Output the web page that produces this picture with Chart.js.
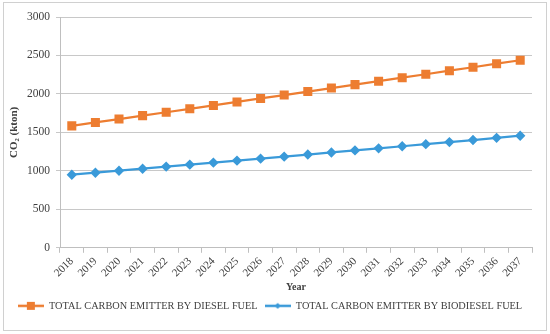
<!DOCTYPE html>
<html>
<head>
<meta charset="utf-8">
<script src="https://cdn.jsdelivr.net/npm/chart.js@4"></script>
<style>
  body { margin: 0; background: #fff; }
  #wrap { position: relative; width: 550px; height: 334px; }
  #frame { position: absolute; left: 3px; top: 2px; width: 542px; height: 327px; border: 1px solid #d0d0d0; pointer-events: none; }
  canvas { position: absolute; left: 0; top: 0; }
</style>
</head>
<body>
<div id="wrap">
  <canvas id="chart" width="550" height="334"></canvas>
  <div id="frame"></div>
</div>
<script>
const years = ["2018", "2019", "2020", "2021", "2022", "2023", "2024", "2025", "2026", "2027",
  "2028", "2029", "2030", "2031", "2032", "2033", "2034", "2035", "2036", "2037"];
const dieselValues = [1585, 1630, 1674, 1718, 1762, 1807, 1851, 1896, 1941, 1986,
  2031, 2076, 2121, 2166, 2211, 2256, 2302, 2347, 2393, 2438];
const biodieselValues = [950, 976, 1002, 1028, 1055, 1081, 1107, 1133, 1159, 1185,
  1212, 1239, 1266, 1293, 1320, 1347, 1374, 1401, 1429, 1457];
const yTicks = [0, 500, 1000, 1500, 2000, 2500, 3000];

const orange = "#ED7D31";
const blue = "#3A9AD9";
const serif = "'Liberation Serif', 'DejaVu Serif', serif";

// Builds a small legend swatch: a line with the marker in the middle
function makeSwatch(color, marker) {
  const c = document.createElement("canvas");
  c.width = 26;
  c.height = 10;
  const g = c.getContext("2d");
  g.strokeStyle = color;
  g.lineWidth = 2.5;
  g.beginPath();
  g.moveTo(0, 5);
  g.lineTo(26, 5);
  g.stroke();
  g.fillStyle = color;
  if (marker === "square") {
    g.fillRect(9, 1, 8, 8);
  } else {
    g.beginPath();
    g.moveTo(13, 2);
    g.lineTo(16, 5);
    g.lineTo(13, 8);
    g.lineTo(10, 5);
    g.closePath();
    g.fill();
  }
  return c;
}

const ctx = document.getElementById("chart").getContext("2d");
new Chart(ctx, {
  type: "line",
  data: {
    labels: years,
    datasets: [
      {
        label: "TOTAL CARBON EMITTER BY DIESEL FUEL",
        data: dieselValues,
        borderColor: orange,
        backgroundColor: orange,
        borderWidth: 2.25,
        pointStyle: "rect",
        pointRadius: 4.8,
        pointHoverRadius: 4.8,
        legendSwatch: makeSwatch(orange, "square"),
      },
      {
        label: "TOTAL CARBON EMITTER BY BIODIESEL FUEL",
        data: biodieselValues,
        borderColor: blue,
        backgroundColor: blue,
        borderWidth: 2.25,
        pointStyle: "rectRot",
        pointRadius: 3.6,
        pointHoverRadius: 3.6,
        legendSwatch: makeSwatch(blue, "diamond"),
      },
    ],
  },
  options: {
    responsive: false,
    animation: false,
    layout: { padding: { top: 17, right: 18, bottom: 13, left: 8 } },
    plugins: {
      tooltip: { enabled: false },
      legend: {
        position: "bottom",
        labels: {
          usePointStyle: true,
          pointStyleWidth: 26,
          padding: 7,
          color: "#404040",
          font: { family: serif, size: 10.3 },
          generateLabels: (chart) =>
            chart.data.datasets.map((ds, i) => ({
              text: ds.label,
              pointStyle: ds.legendSwatch,
              fillStyle: ds.borderColor,
              strokeStyle: ds.borderColor,
              fontColor: "#404040",
              lineWidth: 0,
              datasetIndex: i,
              hidden: false,
            })),
        },
      },
    },
    scales: {
      x: {
        offset: true,
        grid: {
          offset: true,
          drawOnChartArea: false,
          drawTicks: true,
          tickLength: 5,
          color: "#bfbfbf",
        },
        border: { color: "#bfbfbf" },
        ticks: {
          minRotation: 45,
          maxRotation: 45,
          autoSkip: false,
          color: "#404040",
          font: { family: serif, size: 11 },
          padding: 2,
        },
        title: {
          display: true,
          text: "Year",
          color: "#404040",
          font: { family: serif, size: 10, weight: "bold" },
          padding: { top: 0, bottom: 0 },
        },
      },
      y: {
        min: 0,
        max: 3000,
        afterBuildTicks: (scale) => {
          scale.ticks = yTicks.map((v) => ({ value: v }));
        },
        afterFit: (scale) => {
          scale.width = 52;
        },
        grid: { color: "#c8c8c8", tickLength: 4 },
        border: { color: "#bfbfbf" },
        ticks: {
          color: "#404040",
          font: { family: serif, size: 11.5 },
          padding: 6,
          callback: (v) => String(v),
        },
        title: {
          display: true,
          text: "CO₂ (kton)",
          color: "#404040",
          font: { family: serif, size: 11, weight: "bold" },
          padding: { top: 0, bottom: 0 },
        },
      },
    },
  },
});
</script>
</body>
</html>
